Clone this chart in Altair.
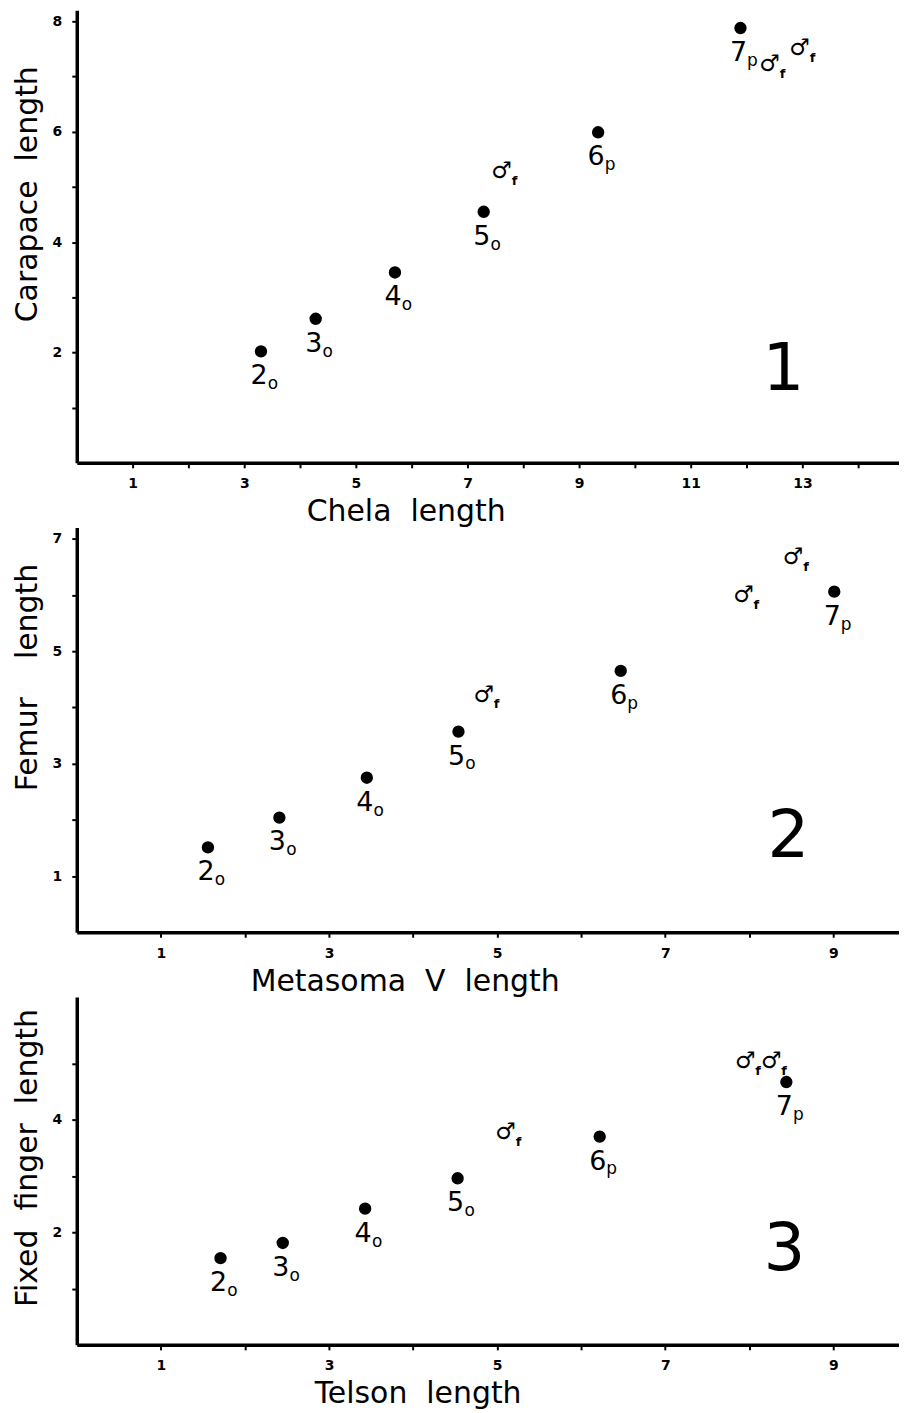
import altair as alt
import pandas as pd

FONT = "DejaVu Sans"
NB = "\u00a0"

# ---------------- data ----------------
# Panel 1: Chela length vs Carapace length
p1_stage = ["2", "3", "4", "5", "6", "7"]
p1_sub = ["o", "o", "o", "o", "p", "p"]
p1_x = [3.30, 4.28, 5.70, 7.29, 9.34, 11.89]
p1_y = [2.02, 2.61, 3.45, 4.55, 5.99, 7.88]
p1_male_x = [7.61, 12.41, 12.95]
p1_male_y = [5.28, 7.22, 7.52]

# Panel 2: Metasoma V length vs Femur length
p2_stage = ["2", "3", "4", "5", "6", "7"]
p2_sub = ["o", "o", "o", "o", "p", "p"]
p2_x = [1.56, 2.41, 3.45, 4.54, 6.47, 9.01]
p2_y = [1.51, 2.04, 2.75, 3.57, 4.65, 6.06]
p2_male_x = [4.84, 7.93, 8.52]
p2_male_y = [4.23, 6.00, 6.68]

# Panel 3: Telson length vs Fixed finger length
p3_stage = ["2", "3", "4", "5", "6", "7"]
p3_sub = ["o", "o", "o", "o", "p", "p"]
p3_x = [1.71, 2.45, 3.43, 4.53, 6.22, 8.44]
p3_y = [1.54, 1.81, 2.42, 2.96, 3.70, 4.67]
p3_male_x = [5.10, 7.95, 8.26]
p3_male_y = [3.79, 5.04, 5.04]

male_symbol = "\u2642"
male_sub = "f"

panel_numbers = ["1", "2", "3"]
x_titles = ["Chela" + NB * 2 + "length",
            "Metasoma" + NB * 2 + "V" + NB * 2 + "length",
            "Telson" + NB * 2 + "length"]
y_titles = ["Carapace" + NB * 2 + "length",
            "Femur" + NB * 4 + "length",
            "Fixed" + NB * 2 + "finger" + NB * 2 + "length"]

x_ticks = [list(range(1, 15)), list(range(1, 10)), list(range(1, 10))]
y_ticks = [list(range(1, 9)), list(range(1, 8)), list(range(1, 6))]
x_label_expr = ["datum.value % 2 == 1 ? datum.label : ''"] * 3
y_label_expr = ["datum.value % 2 == 0 ? datum.label : ''",
                "datum.value % 2 == 1 ? datum.label : ''",
                "datum.value % 2 == 0 ? datum.label : ''"]
x_max = [14.73, 9.78, 9.78]
y_max = [8.2, 7.2, 6.18]

W = 825
heights = [454, 406, 349]
x_title_pos = [330, 329, 342]
y_title_pos = [184, 150, 161]
num_pos = [(709, 361), (714, 310), (710, 254)]


def panel(i, stage, sub, xs, ys, mx, my):
    df = pd.DataFrame({"x": xs, "y": ys, "stage": stage, "sub": sub})
    dm = pd.DataFrame({"x": mx, "y": my,
                       "sym": [male_symbol] * len(mx),
                       "sub": [male_sub] * len(mx)})
    dn = pd.DataFrame({"n": [panel_numbers[i]]})

    xenc = alt.X("x:Q", scale=alt.Scale(domain=[0, x_max[i]], nice=False, zero=False),
                 axis=alt.Axis(values=x_ticks[i], labelExpr=x_label_expr[i], format="d",
                               title=x_titles[i], titleX=x_title_pos[i], titleY=58,
                               titleBaseline="alphabetic", titleAlign="center",
                               titleAngle=0, labelPadding=9))
    yenc = alt.Y("y:Q", scale=alt.Scale(domain=[0, y_max[i]], nice=False, zero=False),
                 axis=alt.Axis(values=y_ticks[i], labelExpr=y_label_expr[i], format="d",
                               title=y_titles[i], titleX=-40, titleY=y_title_pos[i],
                               titleBaseline="alphabetic", titleAlign="center",
                               titleAngle=270, labelPadding=10))

    pts = alt.Chart(df).mark_circle(size=154, color="black", opacity=1).encode(x=xenc, y=yenc)
    dig = alt.Chart(df).mark_text(font=FONT, fontSize=27, dx=-2, dy=25, align="center",
                                  baseline="middle", color="black").encode(
        x="x:Q", y="y:Q", text="stage:N")
    sb = alt.Chart(df).mark_text(font=FONT, fontSize=17, dx=12, dy=33, align="center",
                                 baseline="middle", color="black").encode(
        x="x:Q", y="y:Q", text="sub:N")
    ms = alt.Chart(dm).mark_text(font=FONT, fontSize=23, fontWeight="bold", align="center",
                                 baseline="middle", color="black").encode(
        x="x:Q", y="y:Q", text="sym:N")
    msb = alt.Chart(dm).mark_text(font=FONT, fontSize=13, fontWeight="bold", dx=13, dy=10,
                                  align="center", baseline="middle", color="black").encode(
        x="x:Q", y="y:Q", text="sub:N")
    num = alt.Chart(dn).mark_text(font=FONT, fontSize=66, align="center", baseline="middle",
                                  color="black").encode(
        x=alt.value(num_pos[i][0]), y=alt.value(num_pos[i][1]), text="n:N")

    return alt.layer(pts, dig, sb, ms, msb, num).properties(width=W, height=heights[i])


chart = alt.vconcat(
    panel(0, p1_stage, p1_sub, p1_x, p1_y, p1_male_x, p1_male_y),
    panel(1, p2_stage, p2_sub, p2_x, p2_y, p2_male_x, p2_male_y),
    panel(2, p3_stage, p3_sub, p3_x, p3_y, p3_male_x, p3_male_y),
    spacing=65,
    bounds="flush",
).properties(
    padding={"left": 4, "top": 0, "right": 0, "bottom": 0}
).configure(background="white").configure_view(stroke=None).configure_axis(
    grid=False,
    domainColor="black", domainWidth=3.5,
    tickColor="black", tickWidth=2, tickSize=5,
    labelFont=FONT, labelFontSize=14, labelFontWeight="bold", labelColor="black",
    labelOverlap=False,
    titleFont=FONT, titleFontSize=30, titleFontWeight="normal", titleColor="black",
)

chart.save("out.html", embed_options={"renderer": "svg", "actions": False})
